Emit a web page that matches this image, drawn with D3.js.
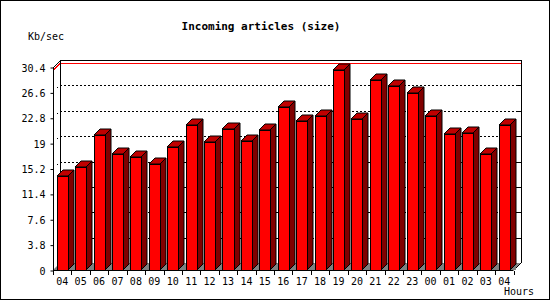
<!DOCTYPE html>
<html>
<head>
<meta charset="utf-8">
<script src="https://cdn.jsdelivr.net/npm/d3@7"></script>
<style>
  body { margin: 0; background: #fff; }
  svg { display: block; }
  text { font-family: "DejaVu Sans Mono", monospace; fill: #000; }
</style>
</head>
<body>
<svg id="chart" width="550" height="300"></svg>
<script>
"use strict";

// hours along the x axis (24h window, wraps back to 04)
const hours = ["04", "05", "06", "07", "08", "09", "10", "11", "12", "13", "14", "15",
  "16", "17", "18", "19", "20", "21", "22", "23", "00", "01", "02", "03", "04"];

// incoming size, Kb/sec
const kbPerSec = [14.1, 15.4, 20.2, 17.4, 16.9, 15.9, 18.4, 21.7, 19.2, 21.1, 19.3, 20.9,
  24.4, 22.3, 23.1, 29.95, 22.6, 28.45, 27.55, 26.5, 23.1, 20.4, 20.5, 17.4, 21.7];

const yTicks = [0, 3.8, 7.6, 11.4, 15.2, 19, 22.8, 26.6, 30.4];

(function () {
  const svg = d3.select('#chart');
  const width = 550, height = 300;

  // plot box (front plane)
  const left = 53, right = 513.5, bottom = 270, top = 67;
  // wall depth, bar depth
  const wd = 7, bd = 6;

  const x = d3.scaleBand()
    .domain(d3.range(hours.length))
    .range([left, right]);
  const y = d3.scaleLinear()
    .domain([0, 30.4])
    .range([bottom, top]);

  const bw = x.bandwidth();

  // frame
  svg.append('rect')
    .attr('x', 0.5).attr('y', 0.5)
    .attr('width', width - 1).attr('height', height - 1)
    .attr('fill', '#fff').attr('stroke', '#000');

  // title + axis names
  svg.append('text')
    .attr('x', 261).attr('y', 30)
    .attr('text-anchor', 'middle')
    .style('font-size', '11px').style('font-weight', 'bold')
    .text('Incoming articles (size)');

  svg.append('text')
    .attr('x', 28).attr('y', 40)
    .style('font-size', '10px')
    .text('Kb/sec');

  svg.append('text')
    .attr('x', 534).attr('y', 295)
    .attr('text-anchor', 'end')
    .style('font-size', '10px')
    .text('Hours');

  const g = svg.append('g');

  // floor
  g.append('polygon')
    .attr('points', [[left, bottom], [right, bottom], [right + wd, bottom - wd], [left + wd, bottom - wd]].join(' '))
    .attr('fill', '#808080');

  // dotted grid on back wall + side wall
  yTicks.slice(1, -1).forEach(function (t) {
    g.append('line')
      .attr('x1', left + wd).attr('x2', right + wd)
      .attr('y1', Math.round(y(t)) - wd + 0.5).attr('y2', Math.round(y(t)) - wd + 0.5)
      .attr('stroke', '#000').attr('stroke-dasharray', '2,2')
      .attr('shape-rendering', 'crispEdges');
    g.append('line')
      .attr('x1', left).attr('x2', left + wd)
      .attr('y1', Math.round(y(t))).attr('y2', Math.round(y(t)) - wd)
      .attr('stroke', '#000').attr('stroke-dasharray', '2,3')
      .attr('shape-rendering', 'crispEdges');
    // small ticks on right wall
    g.append('line')
      .attr('x1', right + wd - 3).attr('x2', right + wd + 0.5)
      .attr('y1', Math.round(y(t)) - wd + 0.5).attr('y2', Math.round(y(t)) - wd + 0.5)
      .attr('stroke', '#000').attr('shape-rendering', 'crispEdges');
  });

  // max line
  const maxV = d3.max(kbPerSec);
  const ym = Math.round(y(maxV));
  g.append('polyline')
    .attr('points', [[left, ym + 0.5], [left + wd, ym - wd + 0.5], [right + wd, ym - wd + 0.5]].join(' '))
    .attr('fill', 'none').attr('stroke', '#ff0000').attr('shape-rendering', 'crispEdges');

  // walls outline
  g.append('polyline')
    .attr('points', [[left + 0.5, bottom], [left + 0.5, top + 0.5], [left + wd + 0.5, top - wd + 0.5],
      [right + wd + 0.5, top - wd + 0.5], [right + wd + 0.5, bottom - wd], [right, bottom]].join(' '))
    .attr('fill', 'none').attr('stroke', '#000').attr('shape-rendering', 'crispEdges');
  g.append('line')
    .attr('x1', left + wd + 0.5).attr('x2', left + wd + 0.5)
    .attr('y1', top - wd).attr('y2', bottom - wd)
    .attr('stroke', '#000').attr('shape-rendering', 'crispEdges');

  // bars
  const bars = g.selectAll('g.bar')
    .data(kbPerSec)
    .enter()
    .append('g')
    .attr('class', 'bar');

  function x0(i) { return Math.round(x(i) + bw * 0.2); }
  function x1(i) { return Math.round(x(i) + bw * 0.8); }

  bars.append('polygon')
    .attr('points', function (d, i) {
      const yt = Math.round(y(d));
      return [[x1(i), bottom], [x1(i) + bd, bottom - bd], [x1(i) + bd, yt - bd], [x1(i), yt]].join(' ');
    })
    .attr('fill', '#800000').attr('stroke', '#000').attr('stroke-width', 1)
    .attr('stroke-linejoin', 'miter');

  bars.append('polygon')
    .attr('points', function (d, i) {
      const yt = Math.round(y(d));
      return [[x0(i), yt], [x0(i) + bd, yt - bd], [x1(i) + bd, yt - bd], [x1(i), yt]].join(' ');
    })
    .attr('fill', '#c00000').attr('stroke', '#000').attr('stroke-width', 1);

  bars.append('rect')
    .attr('x', function (d, i) { return x0(i) + 0.5; })
    .attr('y', function (d) { return Math.round(y(d)) + 0.5; })
    .attr('width', function (d, i) { return x1(i) - x0(i); })
    .attr('height', function (d) { return bottom - Math.round(y(d)); })
    .attr('fill', '#ff0000').attr('stroke', '#000')
    .attr('shape-rendering', 'crispEdges');

  // floor triangles in front of side faces
  bars.append('polygon')
    .attr('points', function (d, i) {
      return [[x1(i) + 1, bottom], [x1(i) + bd, bottom], [x1(i) + bd, bottom - bd + 1]].join(' ');
    })
    .attr('fill', '#808080');

  // axes
  const yAxis = d3.axisLeft(y)
    .tickValues(yTicks)
    .tickFormat(function (d) { return d3.format('')(d); })
    .tickSize(3)
    .tickPadding(5);
  const ya = svg.append('g')
    .attr('transform', 'translate(' + (left + 0.5) + ',0.5)')
    .call(yAxis);
  ya.select('.domain').attr('stroke', '#000').attr('d', 'M0,' + bottom + 'V' + top);
  ya.selectAll('text').style('font-size', '10px').attr('dy', '0.35em');

  const xAxis = d3.axisBottom(x)
    .tickFormat(function (i) { return hours[i]; })
    .tickSize(0)
    .tickPadding(7);
  const xa = svg.append('g')
    .attr('transform', 'translate(0,' + (bottom + 0.5) + ')')
    .call(xAxis);
  xa.select('.domain').attr('stroke', '#000').attr('d', 'M' + left + ',0H' + right);
  xa.selectAll('text').style('font-size', '10px');

  // ticks between hours
  xa.selectAll('line.sep')
    .data(d3.range(hours.length + 1))
    .enter()
    .append('line')
    .attr('class', 'sep')
    .attr('x1', function (i) { return Math.round(left + i * bw) + 0.5; })
    .attr('x2', function (i) { return Math.round(left + i * bw) + 0.5; })
    .attr('y1', 0).attr('y2', 4)
    .attr('stroke', '#000')
    .attr('shape-rendering', 'crispEdges');
})();
</script>
</body>
</html>
